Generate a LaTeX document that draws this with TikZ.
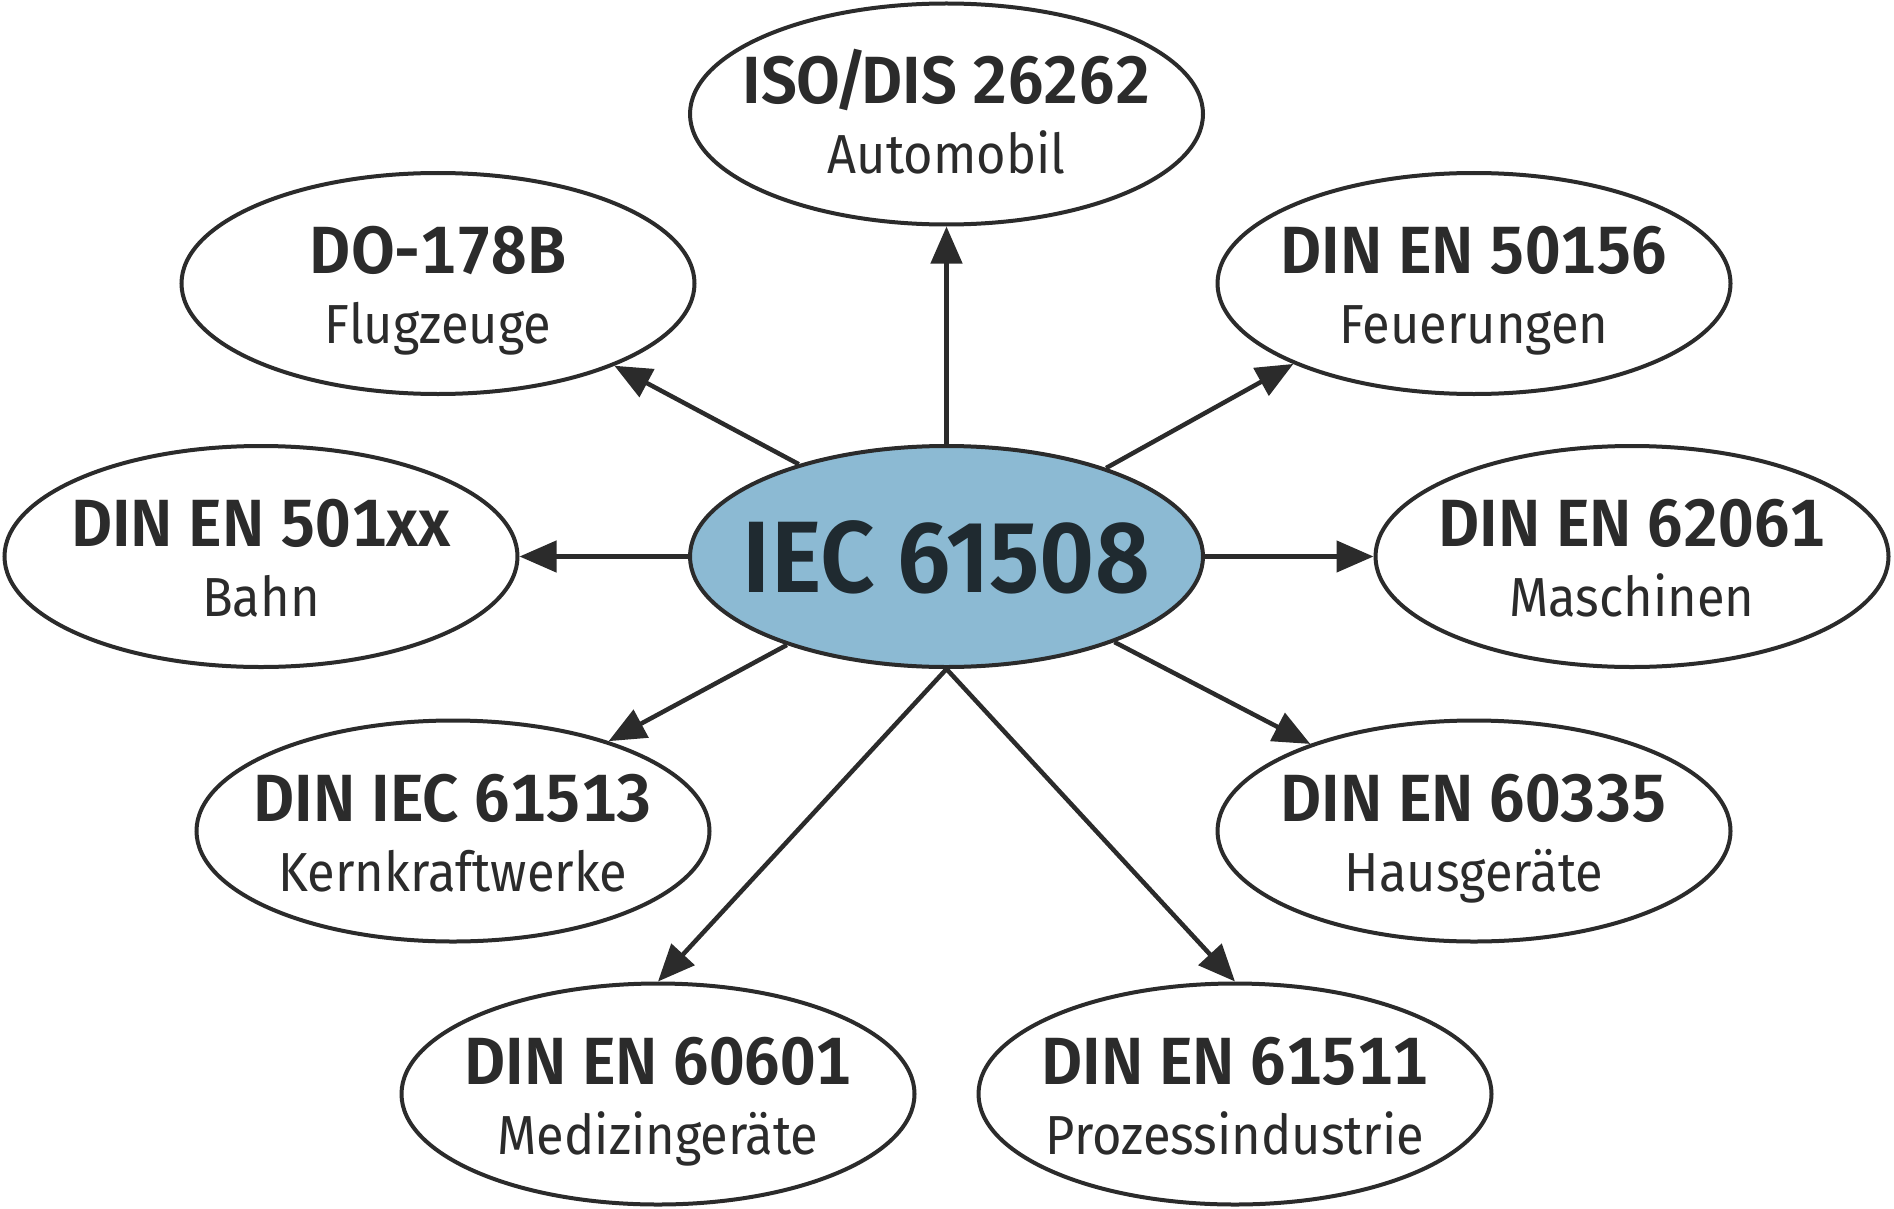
\documentclass[tikz,border=0pt]{standalone}
\usepackage{fontspec}
\setmainfont{Fira Sans}
\newfontfamily\narrowf[FakeStretch=0.92]{Fira Sans}
\newfontfamily\semif[FakeStretch=0.95,Numbers=Monospaced]{Fira Sans SemiBold}
\newfontfamily\hubf[FakeStretch=0.94]{Fira Sans SemiBold}
\usetikzlibrary{shapes.geometric,arrows.meta,calc}
\definecolor{linec}{HTML}{2B2B2B}
\definecolor{hubfill}{HTML}{8CBAD3}
\definecolor{hubtext}{HTML}{1F2A30}
\tikzset{
  stdbox/.style={ellipse, draw=linec, line width=4pt, minimum width=513pt, minimum height=221pt, inner sep=0pt, fill=white},
  hubbox/.style={stdbox, fill=hubfill},
  arr/.style={draw=linec, line width=4.5pt, -{Triangle[length=37pt,width=31pt]}},
  ttl/.style={anchor=base, inner sep=0pt, text=linec, font=\semif\fontsize{66.8}{70}\selectfont},
  subt/.style={anchor=base, inner sep=0pt, text=linec, font=\narrowf\fontsize{55}{60}\selectfont},
}
\newcommand\stdnode[6][]{%
  \node[stdbox,#1] (#2) at (#3,#4) {};
  \node[ttl] (#2-t) at ($(#2)+(0,-10)$) {#5};
  \node[subt] (#2-s) at ($(#2)+(0,60)$) {#6};}
\begin{document}
\begin{tikzpicture}[x=1pt,y=-1pt]
\useasboundingbox (0,0) rectangle (1894,1209);
\stdnode{iso}{946.5}{114}{ISO\kern-6pt/\kern-6pt DIS 26262}{Automobil}
\stdnode{do}{438}{283.5}{DO-178B}{Flugzeuge}
\stdnode{fe}{1474}{283.5}{DIN EN 50156}{Feuerungen}
\stdnode{bahn}{261}{556.5}{DIN EN 501xx}{Bahn}
\stdnode{ma}{1632}{556.5}{DIN EN 62061}{Maschinen}
\stdnode{kk}{453}{831}{DIN IEC 61513}{Kernkraftwerke}
\stdnode{hg}{1474}{831}{DIN EN 60335}{Hausgeräte}
\stdnode{med}{658}{1094}{DIN EN 60601}{Medizingeräte}
\stdnode{pro}{1235}{1094}{DIN EN 61511}{Prozessindustrie}
\node[hubbox] (iec) at (946.5,556.5) {};
\node[anchor=base, inner sep=0pt, text=hubtext, font=\hubf\fontsize{101.6}{105}\selectfont] (iec-t) at ($(iec)+(0,35.5)$) {IEC 61508};
\draw[arr] (iec.north) -- (iso.south);
\draw[arr] (iec.148.5) -- (do.-25.1);
\draw[arr] (iec.29.6) -- (fe.204.7);
\draw[arr] (iec.west) -- (bahn.east);
\draw[arr] (iec.east) -- (ma.west);
\draw[arr] (iec.209.3) -- (kk.30.4);
\draw[arr] (iec.-27.2) -- (hg.152.8);
\draw[arr] (iec.south) -- (med.north);
\draw[arr] (iec.south) -- (pro.north);
\end{tikzpicture}
\end{document}
